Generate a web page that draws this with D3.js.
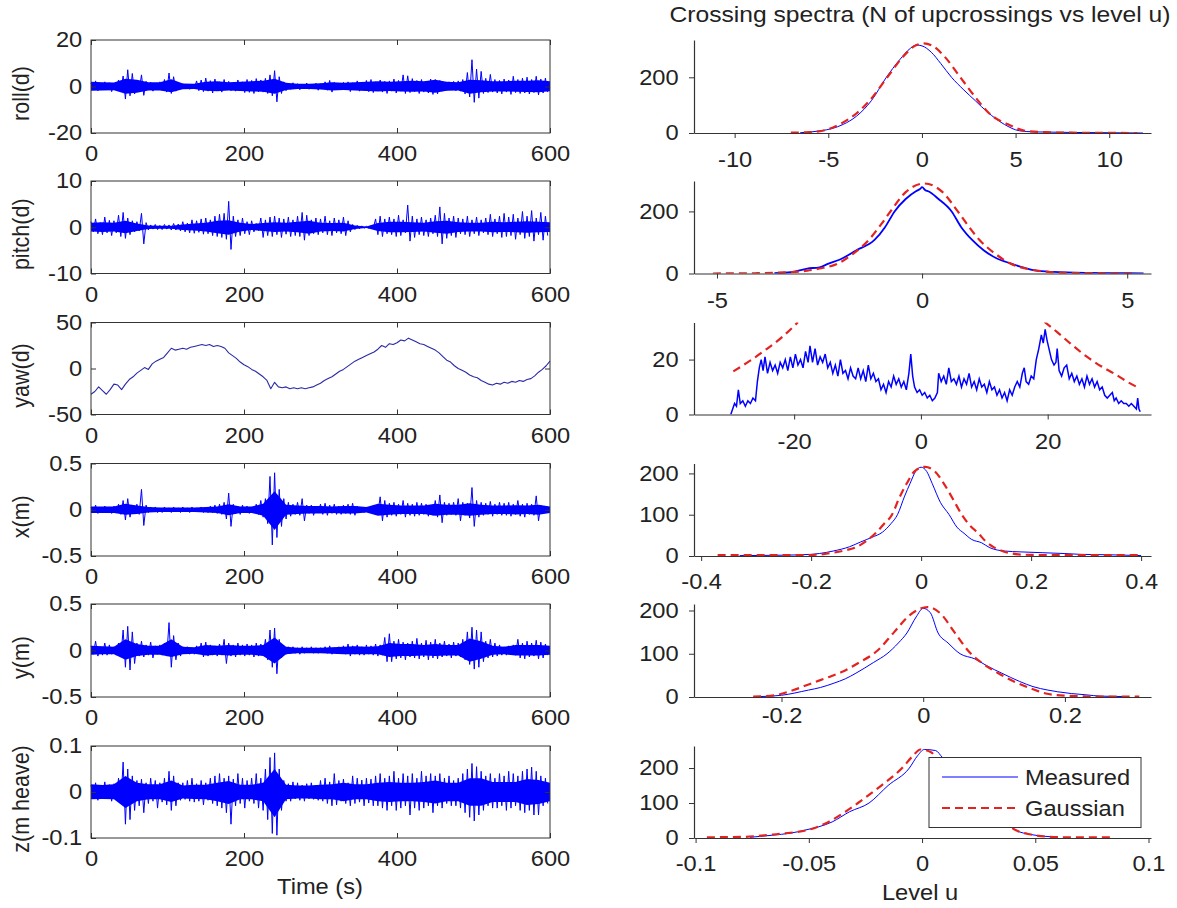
<!DOCTYPE html>
<html>
<head>
<meta charset="utf-8">
<script src="https://cdn.jsdelivr.net/npm/d3@7"></script>
<style>
body { margin: 0; background: #fff; }
svg text { font-family: "Liberation Sans", Arial, sans-serif; font-size: 21.5px; fill: #222; }
</style>
</head>
<body>
<svg id="fig" width="1177" height="908"></svg>
<script>
/// ---- time series (left column), one sample every tsStep seconds ----
var tsNames = ["roll(d)", "pitch(d)", "yaw(d)", "x(m)", "y(m)", "z(m heave)"];
var tsRange = [[-20, 20], [-10, 10], [-50, 50], [-0.5, 0.5], [-0.5, 0.5], [-0.1, 0.1]];
var tsStep = [3, 3, 5, 3, 3, 3];
var coreStep = 15;   /// dense band read every 15 s
var timeTicks = [0, 200, 400, 600];

var roll = [
  1.5,-1.2,2.4,-1.8,1.3,-1.5,2.0,-1.0,1.6,-2.2,
  1.2,-1.4,2.8,-2.0,4.5,-5.4,7.2,-4.0,5.6,-3.2,
  2.0,-1.6,5.0,-3.8,2.2,-1.4,1.8,-2.0,1.5,-1.2,
  2.0,-1.5,3.0,-2.4,5.8,-3.0,4.2,-2.0,1.6,-1.0,
  1.2,-0.8,1.0,-1.2,0.8,-1.0,2.4,-1.8,2.8,-2.2,
  3.6,-2.0,2.5,-2.8,3.2,-1.6,2.0,-2.4,3.0,-1.5,
  2.2,-1.8,1.6,-2.0,2.8,-1.4,2.0,-2.6,3.0,-2.5,
  2.6,-3.0,3.4,-2.2,2.8,-2.4,3.5,-3.0,5.0,-4.0,
  6.8,-6.6,4.2,-3.0,2.0,-1.8,1.4,-1.2,1.6,-1.0,
  1.2,-1.4,1.0,-0.8,1.5,-1.2,1.0,-1.0,1.4,-1.6,
  1.2,-1.0,2.0,-1.6,2.6,-2.4,1.8,-1.2,1.4,-1.0,
  1.8,-1.5,2.0,-2.2,1.6,-1.4,2.4,-2.0,1.8,-1.6,
  2.6,-2.2,3.0,-2.6,2.0,-1.8,2.8,-2.4,2.2,-3.0,
  2.4,-2.0,3.2,-2.8,2.6,-2.0,5.0,-3.0,4.6,-2.6,
  3.4,-2.2,2.6,-3.0,3.0,-2.4,2.2,-2.8,3.2,-3.4,
  3.0,-3.2,2.6,-2.0,1.8,-1.6,2.0,-1.4,2.2,-1.8,
  2.4,-2.0,3.0,-3.2,6.0,-4.5,11.5,-6.8,7.5,-5.0,
  6.5,-3.0,3.5,-2.6,5.2,-2.4,3.0,-2.8,2.6,-3.2,
  3.2,-2.4,2.8,-3.4,4.4,-2.6,3.0,-3.0,3.6,-2.8,
  4.0,-3.2,3.0,-2.6,4.4,-3.6,3.2,-2.8,3.6,-2.4
];
var pitch = [
  1.2,-1.0,1.8,-1.4,1.0,-1.6,2.2,-1.2,1.5,-1.8,
  1.4,-1.2,2.6,-2.0,3.2,-2.4,2.0,-1.6,1.4,-1.0,
  1.2,-0.8,3.0,-3.6,1.0,-0.6,0.5,-0.4,0.6,-0.5,
  0.4,-0.5,0.6,-0.4,0.5,-0.6,0.8,-0.6,0.7,-0.8,
  1.2,-1.0,0.9,-1.2,1.6,-1.3,1.4,-1.1,1.8,-1.5,
  2.0,-1.4,1.6,-1.8,2.4,-2.0,2.8,-2.2,3.0,-2.6,
  5.6,-4.8,2.4,-2.0,1.6,-1.8,2.0,-1.4,1.2,-1.6,
  1.4,-1.0,0.8,-0.7,2.0,-2.2,1.6,-1.8,2.2,-2.0,
  2.4,-1.6,2.0,-2.2,1.8,-1.5,2.2,-2.0,1.6,-1.8,
  2.4,-2.0,3.2,-2.8,2.6,-1.8,1.6,-1.4,2.0,-1.6,
  1.8,-1.2,2.4,-1.6,1.4,-1.8,2.0,-1.2,1.6,-1.4,
  2.2,-1.8,1.4,-1.0,0.6,-0.5,0.4,-0.3,0.3,-0.2,
  0.2,-0.2,0.3,-0.2,1.8,-1.6,2.4,-2.0,1.8,-1.4,
  2.2,-1.6,1.8,-2.0,2.6,-1.8,1.6,-1.2,4.8,-3.0,
  2.4,-2.2,1.8,-1.6,2.2,-1.8,1.6,-2.0,2.0,-1.4,
  2.6,-2.0,4.4,-3.6,3.0,-2.4,2.0,-1.8,2.4,-2.2,
  2.0,-1.4,1.8,-1.6,2.4,-2.0,1.6,-1.4,2.2,-1.8,
  1.6,-1.2,2.0,-1.6,2.8,-2.0,1.8,-1.4,2.4,-2.2,
  3.0,-2.0,2.2,-1.8,2.8,-2.6,2.0,-1.6,3.4,-2.4,
  2.4,-2.0,3.6,-3.0,2.0,-1.6,3.2,-2.8,2.4,-1.8
];
var yaw = [
  -28,-25,-20,-24,-28,-23,-17,-18,-23,-17,
  -12,-9,-5,-2,1,-1,5,8,10,12,
  17,22,20,21,22,21,23,24,25,26,
  25,26,24,25,24,22,17,14,11,7,
  4,2,-1,-3,-6,-9,-13,-22,-15,-20,
  -21,-20,-22,-21,-22,-21,-22,-21,-20,-18,
  -16,-13,-11,-9,-6,-3,-1,2,5,8,
  10,12,14,16,18,21,25,23,27,26,
  28,31,30,33,31,29,27,26,24,22,
  20,17,13,9,7,3,0,-2,-4,-7,
  -9,-10,-13,-15,-17,-18,-16,-17,-15,-16,
  -14,-15,-13,-14,-12,-11,-8,-4,-1,3,
  8
];
var surge = [
  0.03,-0.03,0.05,-0.04,0.02,-0.03,0.04,-0.02,0.03,-0.04,
  0.04,-0.03,0.06,-0.05,0.10,-0.11,0.12,-0.08,0.05,-0.04,
  0.06,-0.05,0.22,-0.17,0.05,-0.03,0.03,-0.02,0.03,-0.03,
  0.02,-0.03,0.03,-0.02,0.02,-0.03,0.03,-0.02,0.02,-0.03,
  0.03,-0.02,0.02,-0.03,0.03,-0.02,0.02,-0.02,0.03,-0.03,
  0.02,-0.03,0.04,-0.03,0.05,-0.04,0.06,-0.05,0.08,-0.10,
  0.18,-0.18,0.06,-0.04,0.04,-0.05,0.05,-0.03,0.04,-0.04,
  0.03,-0.03,0.06,-0.05,0.10,-0.08,0.12,-0.15,0.36,-0.38,
  0.40,-0.30,0.22,-0.18,0.12,-0.10,0.08,-0.07,0.06,-0.05,
  0.08,-0.06,0.12,-0.12,0.05,-0.04,0.05,-0.06,0.04,-0.03,
  0.06,-0.05,0.07,-0.06,0.05,-0.04,0.06,-0.05,0.04,-0.05,
  0.05,-0.04,0.06,-0.05,0.07,-0.06,0.04,-0.03,0.03,-0.03,
  0.03,-0.02,0.03,-0.03,0.04,-0.04,0.14,-0.12,0.10,-0.08,
  0.07,-0.06,0.08,-0.07,0.06,-0.05,0.10,-0.08,0.07,-0.06,
  0.06,-0.07,0.08,-0.06,0.07,-0.05,0.06,-0.07,0.05,-0.06,
  0.10,-0.08,0.16,-0.14,0.08,-0.06,0.07,-0.05,0.08,-0.06,
  0.12,-0.12,0.08,-0.06,0.07,-0.09,0.24,-0.18,0.10,-0.08,
  0.08,-0.06,0.07,-0.05,0.09,-0.07,0.06,-0.05,0.08,-0.06,
  0.07,-0.06,0.08,-0.07,0.06,-0.05,0.10,-0.07,0.06,-0.08,
  0.07,-0.05,0.06,-0.06,0.15,-0.12,0.05,-0.04,0.04,-0.03
];
var sway = [
  0.05,-0.04,0.10,-0.06,0.04,-0.05,0.08,-0.05,0.06,-0.04,
  0.04,-0.05,0.08,-0.06,0.22,-0.18,0.26,-0.21,0.20,-0.14,
  0.08,-0.06,0.10,-0.07,0.06,-0.05,0.09,-0.08,0.05,-0.04,
  0.06,-0.05,0.08,-0.06,0.30,-0.18,0.16,-0.10,0.08,-0.06,
  0.04,-0.03,0.04,-0.04,0.03,-0.04,0.05,-0.03,0.08,-0.07,
  0.09,-0.06,0.06,-0.05,0.05,-0.06,0.07,-0.05,0.12,-0.14,
  0.08,-0.06,0.06,-0.07,0.08,-0.05,0.06,-0.06,0.07,-0.05,
  0.06,-0.07,0.08,-0.06,0.07,-0.05,0.12,-0.10,0.22,-0.18,
  0.24,-0.25,0.12,-0.08,0.05,-0.04,0.04,-0.03,0.04,-0.03,
  0.03,-0.04,0.04,-0.03,0.03,-0.02,0.04,-0.03,0.03,-0.03,
  0.03,-0.02,0.04,-0.03,0.05,-0.04,0.03,-0.03,0.04,-0.03,
  0.05,-0.04,0.07,-0.06,0.05,-0.04,0.06,-0.05,0.04,-0.05,
  0.06,-0.04,0.05,-0.05,0.07,-0.06,0.06,-0.05,0.14,-0.12,
  0.18,-0.12,0.10,-0.09,0.12,-0.08,0.09,-0.10,0.08,-0.07,
  0.10,-0.08,0.13,-0.09,0.08,-0.07,0.11,-0.10,0.09,-0.08,
  0.12,-0.09,0.08,-0.07,0.10,-0.06,0.07,-0.08,0.09,-0.06,
  0.08,-0.07,0.12,-0.10,0.20,-0.15,0.25,-0.20,0.22,-0.18,
  0.20,-0.12,0.10,-0.08,0.12,-0.07,0.08,-0.06,0.06,-0.05,
  0.04,-0.05,0.05,-0.04,0.06,-0.05,0.12,-0.08,0.08,-0.09,
  0.10,-0.07,0.08,-0.06,0.11,-0.09,0.09,-0.08,0.07,-0.05
];
var heave = [
  0.015,-0.012,0.02,-0.018,0.012,-0.015,0.022,-0.014,0.016,-0.02,
  0.018,-0.015,0.03,-0.025,0.065,-0.07,0.05,-0.06,0.035,-0.04,
  0.025,-0.03,0.028,-0.045,0.02,-0.025,0.03,-0.02,0.025,-0.035,
  0.02,-0.022,0.03,-0.028,0.045,-0.04,0.035,-0.03,0.02,-0.018,
  0.02,-0.016,0.025,-0.02,0.03,-0.022,0.018,-0.02,0.025,-0.028,
  0.02,-0.018,0.03,-0.025,0.035,-0.03,0.04,-0.035,0.03,-0.045,
  0.035,-0.07,0.028,-0.03,0.04,-0.025,0.03,-0.035,0.025,-0.02,
  0.03,-0.025,0.04,-0.035,0.03,-0.04,0.05,-0.06,0.075,-0.09,
  0.085,-0.094,0.05,-0.04,0.025,-0.02,0.018,-0.02,0.022,-0.015,
  0.02,-0.018,0.015,-0.02,0.018,-0.015,0.02,-0.016,0.015,-0.018,
  0.025,-0.02,0.03,-0.025,0.022,-0.03,0.04,-0.028,0.025,-0.02,
  0.028,-0.025,0.02,-0.03,0.035,-0.025,0.03,-0.022,0.026,-0.03,
  0.03,-0.024,0.028,-0.03,0.035,-0.03,0.04,-0.035,0.03,-0.04,
  0.035,-0.03,0.045,-0.04,0.03,-0.035,0.04,-0.03,0.035,-0.05,
  0.04,-0.035,0.03,-0.04,0.045,-0.035,0.035,-0.03,0.04,-0.045,
  0.035,-0.03,0.04,-0.035,0.03,-0.025,0.035,-0.03,0.025,-0.03,
  0.03,-0.035,0.04,-0.045,0.05,-0.055,0.062,-0.063,0.055,-0.05,
  0.045,-0.04,0.035,-0.03,0.04,-0.035,0.03,-0.035,0.04,-0.03,
  0.035,-0.04,0.045,-0.035,0.04,-0.03,0.035,-0.04,0.045,-0.045,
  0.05,-0.04,0.054,-0.05,0.045,-0.05,0.035,-0.03,0.03,-0.025
];
var tsValues = [roll, pitch, yaw, surge, sway, heave];

/// dense part of each record (upper / lower edge of the solid band), every 15 s
var rollCoreHi = [2.0,1.8,1.7,3.3,2.9,1.8,1.8,3.1,1.3,1.2,2.0,2.3,1.8,2.0,2.3,2.5,3.3,1.6,1.2,1.2,1.4,1.8,1.6,1.8,2.0,2.3,2.0,2.3,2.5,2.3,2.9,2.0,1.8,2.9,2.7,2.3,2.3,2.5,2.5,2.7,2.3];
var rollCoreLo = [-1.8,-1.7,-1.6,-3.1,-2.7,-1.7,-1.7,-2.5,-1.2,-1.1,-1.8,-2.0,-1.7,-1.9,-2.1,-2.3,-3.1,-1.5,-1.1,-1.1,-1.3,-1.7,-1.5,-1.7,-1.9,-2.1,-1.9,-2.1,-2.3,-2.1,-2.7,-1.8,-1.7,-3.1,-2.5,-2.1,-2.1,-2.3,-2.4,-2.5,-2.0];
var pitchCoreHi = [1.0,1.1,1.0,1.4,0.8,0.4,0.3,0.35,0.6,0.8,1.0,1.4,1.5,1.0,0.7,0.9,1.1,1.0,1.2,1.4,1.0,0.9,1.0,0.4,0.15,0.9,1.2,1.2,1.1,1.0,1.3,1.4,1.1,1.0,1.0,1.2,1.1,1.2,1.3,1.2,1.1];
var pitchCoreLo = [-0.9,-1.0,-0.9,-1.3,-0.8,-0.4,-0.3,-0.3,-0.6,-0.7,-0.9,-1.3,-1.6,-0.9,-0.6,-0.8,-1.0,-0.9,-1.1,-1.4,-0.9,-0.8,-0.9,-0.4,-0.15,-0.8,-1.1,-1.1,-1.0,-0.9,-1.2,-1.4,-1.0,-0.9,-0.9,-1.1,-1.0,-1.1,-1.2,-1.1,-1.0];
var surgeCoreHi = [0.035,0.035,0.035,0.065,0.045,0.03,0.025,0.025,0.025,0.025,0.03,0.035,0.06,0.035,0.035,0.065,0.2,0.055,0.045,0.04,0.04,0.035,0.04,0.04,0.03,0.065,0.055,0.045,0.045,0.045,0.065,0.055,0.055,0.07,0.055,0.045,0.045,0.05,0.045,0.055,0.035];
var surgeCoreLo = [-0.035,-0.035,-0.035,-0.055,-0.045,-0.03,-0.025,-0.025,-0.025,-0.025,-0.03,-0.035,-0.06,-0.035,-0.035,-0.065,-0.22,-0.055,-0.045,-0.04,-0.04,-0.035,-0.04,-0.04,-0.03,-0.065,-0.055,-0.045,-0.045,-0.045,-0.065,-0.055,-0.055,-0.065,-0.055,-0.045,-0.045,-0.05,-0.045,-0.055,-0.035];
var swayCoreHi = [0.05,0.045,0.04,0.12,0.07,0.05,0.05,0.12,0.04,0.035,0.06,0.05,0.06,0.05,0.05,0.06,0.14,0.04,0.03,0.03,0.03,0.035,0.04,0.045,0.04,0.045,0.08,0.07,0.07,0.06,0.07,0.06,0.06,0.13,0.1,0.05,0.04,0.06,0.06,0.06,0.05];
var swayCoreLo = [-0.045,-0.04,-0.04,-0.1,-0.06,-0.045,-0.045,-0.07,-0.04,-0.035,-0.055,-0.045,-0.055,-0.045,-0.045,-0.06,-0.14,-0.04,-0.03,-0.03,-0.03,-0.035,-0.04,-0.04,-0.04,-0.04,-0.07,-0.06,-0.06,-0.055,-0.06,-0.055,-0.055,-0.12,-0.09,-0.045,-0.04,-0.055,-0.055,-0.055,-0.045];
var heaveCoreHi = [0.017,0.015,0.017,0.035,0.02,0.017,0.017,0.025,0.014,0.016,0.016,0.02,0.024,0.016,0.016,0.02,0.05,0.016,0.014,0.014,0.016,0.017,0.02,0.017,0.017,0.02,0.022,0.02,0.02,0.022,0.025,0.02,0.02,0.03,0.03,0.022,0.022,0.022,0.028,0.026,0.02];
var heaveCoreLo = [-0.016,-0.015,-0.016,-0.035,-0.02,-0.016,-0.016,-0.022,-0.014,-0.015,-0.016,-0.02,-0.026,-0.016,-0.016,-0.02,-0.055,-0.016,-0.014,-0.014,-0.016,-0.016,-0.02,-0.016,-0.016,-0.02,-0.022,-0.02,-0.02,-0.022,-0.025,-0.02,-0.02,-0.03,-0.03,-0.022,-0.022,-0.022,-0.028,-0.026,-0.02];
var coreHi = [rollCoreHi, pitchCoreHi, null, surgeCoreHi, swayCoreHi, heaveCoreHi];
var coreLo = [rollCoreLo, pitchCoreLo, null, surgeCoreLo, swayCoreLo, heaveCoreLo];

/// ---- crossing spectra (right column): [level u, N upcrossings] ----
var levelDomain = [[-12.17, 12.23], [-5.56, 5.58], [-35.8, 36.3], [-0.413, 0.418], [-0.3235, 0.3215], [-0.1007, 0.1011]];
var countMax = [334, 298, 33.5, 224, 215, 263];
var levelTicks = [[-10, -5, 0, 5, 10], [-5, 0, 5], [-20, 0, 20], [-0.4, -0.2, 0, 0.2, 0.4], [-0.2, 0, 0.2], [-0.1, -0.05, 0, 0.05, 0.1]];
var countTicks = [[0, 200], [0, 200], [0, 20], [0, 100, 200], [0, 100, 200], [0, 100, 200]];

var rollMeasured = [[-6.5,1],[-5.4,8],[-4.8,16],[-4.2,31],[-3.5,60],[-2.7,116],[-1.9,200],[-1.2,262],[-0.6,305],[-0.3,316],[0,313],[0.5,290],[1,250],[1.58,200],[2.2,157],[2.85,116],[3.5,75],[4.4,31],[5.2,8],[6,4],[7,3],[8,2],[10,1],[11.8,0]];
var rollGauss = [[-7,1],[-6,3],[-5.3,8],[-4.4,31],[-3.5,70],[-2.8,116],[-1.85,200],[-1,275],[-0.4,312],[0.1,322],[0.6,312],[1.2,275],[2.05,200],[3.0,116],[3.6,70],[4.6,31],[5.5,8],[6.5,3],[8,1],[11.5,0]];
var pitchMeasured = [[-3.6,1],[-3.2,4],[-2.8,16],[-2.5,20],[-2.28,32],[-2.0,45],[-1.6,75],[-1.16,108],[-0.9,150],[-0.67,200],[-0.4,240],[-0.15,265],[-0.05,272],[0,278],[0.08,268],[0.15,265],[0.4,240],[0.72,200],[0.95,150],[1.22,108],[1.5,75],[1.8,50],[2.17,32],[2.5,18],[2.75,10],[3.2,5],[4,2],[5.0,1],[5.4,0]];
var pitchGauss = [[-5.1,0],[-4,1],[-3.3,4],[-2.8,9],[-2.5,16],[-2.05,32],[-1.7,62],[-1.3,108],[-1.0,158],[-0.77,200],[-0.4,262],[0.05,290],[0.5,262],[0.87,200],[1.1,158],[1.4,108],[1.8,62],[2.15,32],[2.6,14],[3.0,6],[3.5,2],[4.2,1],[5.2,0]];
var yawMeasured = [[-30.0,0],[-29.7,2],[-29.4,4],[-29.1,3],[-28.8,9],[-28.5,4],[-28.1,5],[-27.7,3],[-27.3,5],[-26.9,4],[-26.5,6],[-26.1,5],[-25.8,12],[-25.5,17],[-25.2,20],[-24.9,16],[-24.6,21],[-24.2,15],[-23.8,19],[-23.4,16],[-23.0,18],[-22.6,15],[-22.2,19],[-21.8,17],[-21.4,20],[-21.0,16],[-20.6,21],[-20.2,17],[-19.8,22],[-19.4,18],[-19.0,20],[-18.6,17],[-18.2,23],[-17.8,19],[-17.5,25],[-17.1,19],[-16.7,24],[-16.3,18],[-15.9,21],[-15.5,19],[-15.1,22],[-14.7,17],[-14.3,19],[-13.9,15],[-13.5,18],[-13.1,14],[-12.7,20],[-12.3,15],[-11.9,16],[-11.5,13],[-11.1,17],[-10.7,14],[-10.3,13],[-9.9,17],[-9.5,13],[-9.1,16],[-8.7,12],[-8.3,18],[-7.9,13],[-7.5,15],[-7.1,12],[-6.7,13],[-6.3,9],[-5.9,11],[-5.5,8],[-5.1,12],[-4.7,10],[-4.3,14],[-3.9,11],[-3.5,13],[-3.1,10],[-2.7,12],[-2.3,9],[-1.9,15],[-1.6,22],[-1.3,14],[-1.0,10],[-0.6,8],[-0.2,9],[0.2,7],[0.6,8],[1.0,6],[1.4,7],[1.8,5],[2.2,6],[2.6,8],[2.8,15],[3.2,12],[3.6,14],[4.0,11],[4.4,17],[4.8,12],[5.2,13],[5.6,11],[6.0,14],[6.4,10],[6.8,13],[7.2,11],[7.6,15],[8.0,10],[8.4,12],[8.8,9],[9.2,13],[9.6,10],[10.0,11],[10.4,8],[10.8,12],[11.2,9],[11.6,10],[12.0,7],[12.4,9],[12.8,6],[13.2,8],[13.6,5],[14.0,9],[14.4,7],[14.8,10],[15.2,12],[15.6,10],[16.0,15],[16.3,17],[16.6,12],[17.0,11],[17.4,14],[17.8,13],[18.2,20],[18.6,24],[19.0,29],[19.3,26],[19.6,31],[19.9,27],[20.2,24],[20.6,20],[21.0,18],[21.3,19],[21.5,24],[21.8,16],[22.2,14],[22.6,17],[23.0,18],[23.4,13],[23.8,15],[24.2,12],[24.6,14],[25.0,11],[25.4,13],[25.8,10],[26.2,14],[26.6,11],[27.0,13],[27.4,10],[27.8,12],[28.2,9],[28.6,10],[29.0,7],[29.4,6],[29.8,7],[30.2,8],[30.5,5],[30.8,6],[31.2,4],[31.6,5],[32.0,4],[32.4,4],[32.8,3],[33.2,4],[33.6,3],[34.0,2],[34.2,6],[34.4,2],[34.6,1]];
var yawGaussLeft = [[-29.6,15.7],[-27,19.5],[-24.6,23.4],[-22,28],[-19.4,33.6]];
var yawGaussRight = [[19.5,33.7],[21.5,30],[23.6,25.8],[26.5,20.5],[28.5,17.5],[30.5,14.9],[32.5,12],[34.6,9.4]];
var surgeMeasured = [[-0.33,1],[-0.25,2],[-0.2,4],[-0.185,6],[-0.16,12],[-0.13,22.5],[-0.11,34],[-0.09,45],[-0.07,58],[-0.055,78],[-0.043,100],[-0.03,145],[-0.02,176],[-0.01,205],[0.0,215],[0.01,205],[0.02,176],[0.035,130],[0.051,100],[0.065,70],[0.078,55],[0.092,40],[0.11,32],[0.125,20],[0.152,12],[0.18,10],[0.22,8],[0.26,6],[0.29,4],[0.34,3],[0.4,1]];
var surgeGauss = [[-0.37,2],[-0.3,2],[-0.22,2],[-0.19,3],[-0.17,6],[-0.14,13],[-0.117,22],[-0.1,36],[-0.083,55],[-0.068,77],[-0.053,100],[-0.04,140],[-0.026,176],[-0.012,205],[0.007,216],[0.025,205],[0.041,176],[0.057,140],[0.074,100],[0.09,72],[0.104,55],[0.117,36],[0.131,22],[0.15,11],[0.165,6],[0.19,3],[0.25,2],[0.33,2],[0.4,2]];
var swayMeasured = [[-0.23,1],[-0.2,4],[-0.162,16],[-0.145,22],[-0.126,32],[-0.11,42],[-0.095,55],[-0.07,80],[-0.051,100],[-0.035,125],[-0.023,148],[-0.01,185],[0,205],[0.01,195],[0.021,148],[0.035,125],[0.052,100],[0.073,88],[0.09,72],[0.111,55],[0.136,36],[0.155,24],[0.176,16],[0.19,12],[0.209,8],[0.23,5],[0.25,2],[0.29,1]];
var swayGauss = [[-0.24,1],[-0.21,4],[-0.183,16],[-0.157,32],[-0.135,45],[-0.116,57],[-0.09,80],[-0.064,108],[-0.041,150],[-0.02,188],[0.006,208],[0.025,192],[0.044,150],[0.065,104],[0.085,76],[0.106,55],[0.128,36],[0.158,16],[0.173,8],[0.2,3],[0.25,1],[0.305,1]];
var heaveMeasured = [[-0.076,2],[-0.066,8],[-0.058,14],[-0.052,22],[-0.0397,46],[-0.032,75],[-0.0234,100],[-0.015,150],[-0.0056,200],[-0.002,235],[0.001,253],[0.006,250],[0.009,230],[0.015,190],[0.022,140],[0.03,90],[0.036,50],[0.0415,22],[0.048,10],[0.054,5],[0.06,2]];
var heaveGauss = [[-0.095,2],[-0.08,3],[-0.0657,10],[-0.058,15],[-0.051,22],[-0.0413,46],[-0.035,70],[-0.0283,100],[-0.018,150],[-0.0088,200],[-0.004,235],[-0.0007,253],[0.004,245],[0.009,200],[0.018,150],[0.027,100],[0.034,60],[0.0415,22],[0.048,10],[0.055,4],[0.065,2],[0.085,2]];

var measured = [rollMeasured, pitchMeasured, yawMeasured, surgeMeasured, swayMeasured, heaveMeasured];
var gaussian = [[rollGauss], [pitchGauss], [yawGaussLeft, yawGaussRight], [surgeGauss], [swayGauss], [heaveGauss]];

/// ---- layout ----
var panelTop = [40, 181, 322.5, 463.5, 604, 746];
var panelBottom = [133, 273.5, 414.5, 556, 697, 838];
var leftX = [91, 550], rightX = [694, 1151];
var rightLabelGap = [14, 14, 14, 13, 6, 13];
var stretch = "scale(1.1,1)";
var axisColor = "#333";
var blue = "#0000ff", red = "#e3231f";

var svg = d3.select("#fig");
var fmt = d => String(d);

function styleAxis(g) {
  g.attr("font-size", null).attr("font-family", null).style("color", axisColor);
  g.selectAll("text").attr("transform", stretch);
}

/// left column: time histories in boxed axes
tsNames.forEach(function(name, i) {
  var top = panelTop[i], bot = panelBottom[i];
  var x = d3.scaleLinear().domain([0, 600]).range(leftX);
  var y = d3.scaleLinear().domain(tsRange[i]).range([bot, top]);
  var g = svg.append("g");
  var step = tsStep[i];

  if (coreHi[i]) {
    var lo = coreLo[i];
    g.append("path")
      .datum(coreHi[i])
      .attr("fill", blue)
      .attr("d", d3.area().x((d, j) => x(j * coreStep)).y0((d, j) => y(lo[j])).y1(d => y(d)));
  }

  g.append("path")
    .datum(tsValues[i])
    .attr("fill", "none")
    .attr("stroke", i == 2 ? "#2a2aa8" : blue)
    .attr("stroke-width", i == 2 ? 1.1 : 1)
    .attr("stroke-linejoin", "round")
    .attr("d", d3.line().x((d, j) => x(j * step)).y(d => y(d)));

  var bottom = g.append("g").attr("transform", "translate(0," + bot + ")")
    .call(d3.axisBottom(x).tickValues(timeTicks).tickFormat(fmt).tickSize(-5).tickSizeOuter(0).tickPadding(13));
  var topAx = g.append("g").attr("transform", "translate(0," + top + ")")
    .call(d3.axisTop(x).tickValues(timeTicks).tickFormat("").tickSize(-5).tickSizeOuter(0));
  var leftAx = g.append("g").attr("transform", "translate(" + leftX[0] + ",0)")
    .call(d3.axisLeft(y).tickValues(tsRange[i].concat([0])).tickFormat(fmt).tickSize(-5).tickSizeOuter(0).tickPadding(8));
  var rightAx = g.append("g").attr("transform", "translate(" + leftX[1] + ",0)")
    .call(d3.axisRight(y).tickValues([0]).tickFormat("").tickSize(-5).tickSizeOuter(0));
  [bottom, topAx, leftAx, rightAx].forEach(a => { styleAxis(a); a.select(".domain").remove(); });

  g.append("rect")
    .attr("x", leftX[0]).attr("y", top)
    .attr("width", leftX[1] - leftX[0]).attr("height", bot - top)
    .attr("fill", "none").attr("stroke", axisColor).attr("stroke-width", 1);

  g.append("text")
    .attr("text-anchor", "middle")
    .attr("transform", "translate(29," + ((top + bot) / 2 + 7) + ") rotate(-90) scale(1,1.1)")
    .text(name);
});

svg.append("text")
  .attr("text-anchor", "middle")
  .attr("transform", "translate(320,894) " + stretch)
  .text("Time (s)");

/// right column: crossing spectra, open axes
measured.forEach(function(meas, i) {
  var top = panelTop[i], bot = panelBottom[i];
  var x = d3.scaleLinear().domain(levelDomain[i]).range(rightX);
  var y = d3.scaleLinear().domain([0, countMax[i]]).range([bot, top]);
  var g = svg.append("g");

  var clipId = "clip" + i;
  g.append("clipPath").attr("id", clipId)
    .append("rect").attr("x", rightX[0]).attr("y", top)
    .attr("width", rightX[1] - rightX[0]).attr("height", bot - top);

  var line = d3.line().x(d => x(d[0])).y(d => y(d[1]));
  var smooth = d3.line().x(d => x(d[0])).y(d => y(d[1])).curve(d3.curveMonotoneX);

  var plot = g.append("g").attr("clip-path", "url(#" + clipId + ")");
  plot.append("path")
    .datum(meas)
    .attr("fill", "none")
    .attr("stroke", blue)
    .attr("stroke-width", i == 1 ? 1.8 : (i == 2 ? 1.5 : 1))
    .attr("d", i == 2 ? line : smooth);

  gaussian[i].forEach(function(seg) {
    plot.append("path")
      .datum(seg)
      .attr("fill", "none")
      .attr("stroke", red)
      .attr("stroke-width", 2.2)
      .attr("stroke-dasharray", "8,5")
      .attr("d", smooth);
  });

  var bottom = g.append("g").attr("transform", "translate(0," + bot + ")")
    .call(d3.axisBottom(x).tickValues(levelTicks[i]).tickFormat(fmt).tickSize(5).tickSizeOuter(0).tickPadding(rightLabelGap[i]));
  var leftAx = g.append("g").attr("transform", "translate(" + rightX[0] + ",0)")
    .call(d3.axisLeft(y).tickValues(countTicks[i]).tickFormat(fmt).tickSize(5).tickSizeOuter(0).tickPadding(9));
  [bottom, leftAx].forEach(a => { styleAxis(a); a.select(".domain").attr("stroke-width", 1.2); });
});

svg.append("text")
  .attr("text-anchor", "middle")
  .style("font-size", "22.4px")
  .attr("transform", "translate(920,22) " + stretch)
  .text("Crossing spectra (N of upcrossings vs level u)");

svg.append("text")
  .attr("text-anchor", "middle")
  .attr("transform", "translate(920,900) " + stretch)
  .text("Level u");

/// legend, drawn over the last spectrum
var legendItems = [
  {label: "Measured", color: blue, dash: null, width: 1, y: 777},
  {label: "Gaussian", color: red, dash: "8,5", width: 2.2, y: 808}
];
var legend = svg.append("g");
legend.append("rect")
  .attr("x", 929).attr("y", 757.5).attr("width", 212).attr("height", 70)
  .attr("fill", "#fff").attr("stroke", axisColor).attr("stroke-width", 1);
legendItems.forEach(function(it) {
  legend.append("line")
    .attr("x1", 942).attr("x2", 1018).attr("y1", it.y).attr("y2", it.y)
    .attr("stroke", it.color).attr("stroke-width", it.width)
    .attr("stroke-dasharray", it.dash);
  legend.append("text")
    .attr("transform", "translate(1025," + (it.y + 7.5) + ") " + stretch)
    .text(it.label);
});
</script>
</body>
</html>
